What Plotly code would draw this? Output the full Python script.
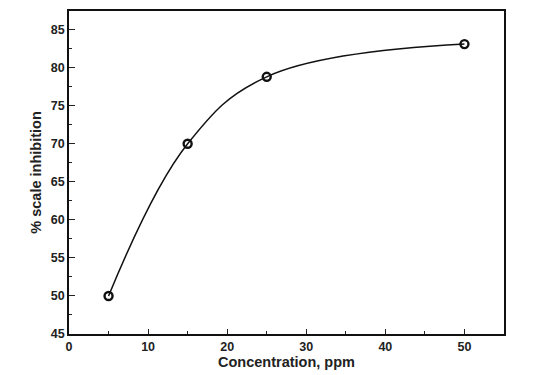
import plotly.graph_objects as go

concentration = [5, 15, 25, 50]
inhibition = [50.0, 70.0, 78.8, 83.1]
x_ticks = [0, 10, 20, 30, 40, 50]
y_ticks = [45, 50, 55, 60, 65, 70, 75, 80, 85]

fig = go.Figure()
fig.add_trace(go.Scatter(
    x=concentration, y=inhibition, mode="lines+markers",
    line=dict(color="#111111", width=1.5, shape="spline", smoothing=1.1),
    marker=dict(symbol="circle-open", size=8, color="#111111", line=dict(width=2.4, color="#111111")),
    showlegend=False,
))

fam = "Liberation Sans, Arial, sans-serif"
fig.update_layout(
    width=552, height=375,
    margin=dict(l=69, r=48, t=11, b=41, autoexpand=False),
    paper_bgcolor="white", plot_bgcolor="white",
    font=dict(family=fam, color="#222222"),
)
fig.update_xaxes(
    range=[0, 55], tickvals=x_ticks, ticktext=[f"<b>{v}</b>" for v in x_ticks],
    ticks="inside", ticklen=5, tickwidth=1, tickcolor="#222",
    minor=dict(dtick=5, tick0=0, ticks="inside", ticklen=3, tickcolor="#222"),
    showgrid=False, zeroline=False, mirror=True, showline=True, linecolor="#111", linewidth=1.5,
    tickfont=dict(size=12.5, family=fam, color="#222"),
    title=dict(text="<b>Concentration, ppm</b>", font=dict(size=14.5), standoff=4),
    automargin=False,
)
fig.update_yaxes(
    range=[45, 87.45], tickvals=y_ticks, ticktext=[f"<b>{v}</b>" for v in y_ticks],
    ticks="inside", ticklen=6, tickwidth=1, tickcolor="#222",
    minor=dict(dtick=2.5, tick0=45, ticks="inside", ticklen=3, tickcolor="#222"),
    showgrid=False, zeroline=False, mirror=True, showline=True, linecolor="#111", linewidth=1.5,
    tickfont=dict(size=12.5, family=fam, color="#222"),
    title=dict(text="<b>% scale inhibition</b>", font=dict(size=14.5), standoff=6),
    automargin=False,
)
fig.write_html("out.html", config={"displayModeBar": False},
               post_script="document.body.style.margin='0';document.body.style.padding='0';")
